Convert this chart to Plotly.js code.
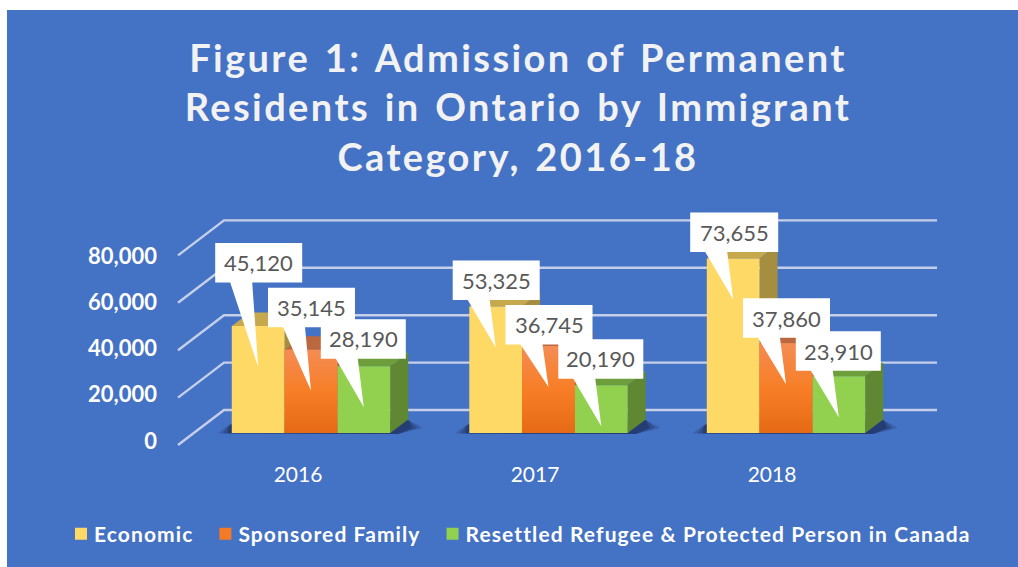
<!DOCTYPE html>
<html>
<head>
<meta charset="utf-8">
<script src="https://cdn.plot.ly/plotly-3.0.1.min.js"></script>
<style>
html,body{margin:0;padding:0;background:#fff;overflow:hidden}
#chart{width:1018px;height:567px}
.gtitle{letter-spacing:2.4px;word-spacing:3px}
.legendtext{letter-spacing:1.1px}
</style>
</head>
<body>
<div id="chart"></div>
<script>
// ---- data ----
const years = ['2016', '2017', '2018'];
const economic = [45120, 53325, 73655];
const sponsored = [35145, 36745, 37860];
const refugee = [28190, 20190, 23910];
const yTicks = [0, 20000, 40000, 60000, 80000];
const seriesNames = ['Economic', 'Sponsored Family', 'Resettled Refugee & Protected Person in Canada'];
const titleText = 'Figure 1: Admission of Permanent<br>Residents in Ontario by Immigrant<br>Category, 2016-18';

// ---- styling / geometry (pixels) ----
const frontColors = ['#FFD966', '#F47B24', '#92D050'];
const topColors = ['#C6A94C', '#BB673F', '#6E9E3C'];
const sideColors = ['#A68E41', '#A85A34', '#608833'];
const M = {l: 20, r: 10, t: 200, b: 112};
const W = 1018, H = 567;
const groupStep = 237.5, barPx = 52.8, depthX = 18, depthY = 13.5;
const pxPerTick = 47.4;
const ux = 1 / groupStep, uy = 20000 / pxPerTick;
const barCenter0 = 311, barBase = 433;
const tipDrop = 41;
// callout: vertical gap between tip and box top, per series per year
const boxRise = [[124, 87, 87], [103, 82, 86], [88, 87, 86]];
const boxW = [[87, 87, 88], [87, 87, 87], [85, 85, 85]];
const boxH = 39.5, boxLeft = 43, tailL = 15, tailW = 22;

const series = [economic, sponsored, refugee];
const bw = barPx * ux;
const X = px => (px - barCenter0) * ux;
const Y = py => (barBase - py) * uy;
const plotW = W - M.l - M.r, plotH = H - M.t - M.b;
const shapes = [];
const annotations = [];

// blue chart area inside the white page edge
shapes.push({type: 'rect', xref: 'paper', yref: 'paper', layer: 'below',
  x0: (7 - M.l) / plotW, x1: (W - M.l) / plotW, y0: (H - M.b - H) / plotH, y1: (H - M.b - 10) / plotH,
  line: {width: 0}, fillcolor: '#4472C4'});

// gridlines with floor diagonals
yTicks.forEach(t => {
  const dy = Y(410) + t, fy = Y(445) + t;
  shapes.push({type: 'path', xref: 'x2', yref: 'y2', layer: 'below',
    path: `M${X(178)},${fy}L${X(224)},${dy}L${X(937)},${dy}`,
    line: {color: '#C5CFE9', width: 2.4}, fillcolor: 'rgba(0,0,0,0)'});
});

// floor shadows
years.forEach((y, i) => {
  const l = i - 1.5 * bw, r = i + 1.5 * bw;
  [[14, 0.22], [9, 0.3], [4, 0.4]].forEach(([g, op]) => {
    const x0 = l - g * ux, x1 = r + (depthX + g) * ux;
    shapes.push({type: 'path', xref: 'x2', yref: 'y2', layer: 'below', opacity: op,
      path: `M${x0},${-0.5 * uy}Q${l - 4 * ux},${8 * uy} ${l},${9 * uy}L${r},${12.5 * uy}L${r + depthX * ux},${13 * uy}Q${x1},${6 * uy} ${x1},${5 * uy}L${r + 8 * ux},${-1 * uy}Z`,
      line: {width: 0}, fillcolor: '#16264F'});
  });
});

// 3-D top and side faces, computed from the values
series.forEach((vals, s) => {
  vals.forEach((v, i) => {
    const xl = i + (s - 1.5) * bw, xr = xl + bw;
    const dx = depthX * ux, dy = depthY * uy;
    shapes.push({type: 'path', xref: 'x2', yref: 'y2', layer: 'below',
      path: `M${xl},${v}L${xl + dx},${v + dy}L${xr + dx},${v + dy}L${xr},${v}Z`,
      line: {width: 0}, fillcolor: topColors[s]});
    shapes.push({type: 'path', xref: 'x2', yref: 'y2', layer: 'below',
      path: `M${xr},${v}L${xr + dx},${v + dy}L${xr + dx},${dy}L${xr},0Z`,
      line: {width: 0}, fillcolor: sideColors[s]});
  });
});

// callouts
series.forEach((vals, s) => {
  vals.forEach((v, i) => {
    const tx = i + (s - 1) * bw, ty = v - tipDrop * uy;
    const left = tx - boxLeft * ux, top = ty + boxRise[s][i] * uy;
    const right = left + boxW[s][i] * ux, bot = top - boxH * uy;
    const tl = left + tailL * ux, tr = tl + tailW * ux;
    shapes.push({type: 'path', xref: 'x2', yref: 'y2', layer: 'above',
      path: `M${left},${top}L${right},${top}L${right},${bot}L${tr},${bot}L${tx},${ty}L${tl},${bot}L${left},${bot}Z`,
      line: {width: 0}, fillcolor: '#FFFFFF'});
    annotations.push({xref: 'x2', yref: 'y2', x: (left + right) / 2, y: (top + bot) / 2,
      text: v.toLocaleString('en-US'), showarrow: false, xanchor: 'center', yanchor: 'middle',
      font: {family: 'Lato', size: 22, color: '#595959'}});
  });
});

// ---- traces ----
const traces = [];
// invisible trace holding the labelled axes
traces.push({type: 'scatter', mode: 'none', x: years, y: [0, 0, 0], xaxis: 'x', yaxis: 'y', showlegend: false, hoverinfo: 'skip'});
series.forEach((vals, s) => {
  traces.push({type: 'bar', name: seriesNames[s], x: [0, 1, 2], y: vals, xaxis: 'x2', yaxis: 'y2',
    marker: {color: frontColors[s], line: {width: 0}}, hoverinfo: 'skip'});
});
// vertical shading on the Sponsored Family fronts
sponsored.forEach((v, i) => {
  const xl = i - 0.5 * bw, xr = i + 0.5 * bw;
  traces.push({type: 'scatter', mode: 'lines', x: [xl, xr, xr, xl, xl], y: [0, 0, v, v, 0], xaxis: 'x2', yaxis: 'y2',
    fill: 'toself', line: {width: 0}, showlegend: false, hoverinfo: 'skip',
    fillgradient: {type: 'vertical', colorscale: [[0, '#E66A15'], [0.5, '#F77E26'], [1, '#F48C54']]}});
});

const labelU = 80000 / 185;
const layout = {
  width: W, height: H, margin: {l: M.l, r: M.r, t: M.t, b: M.b},
  paper_bgcolor: '#FFFFFF', plot_bgcolor: 'rgba(0,0,0,0)',
  barmode: 'group', bargap: 1 - 3 * bw, bargroupgap: 0,
  title: {text: titleText, x: 518 / W, xanchor: 'center', y: 1 - 72 / H, yanchor: 'top', yref: 'container',
    font: {family: 'Lato', size: 38, weight: 700, color: '#F2F2F2'}},
  xaxis: {type: 'category', categoryorder: 'array', categoryarray: years,
    range: [(M.l - 298) / 237, (W - M.r - 298) / 237],
    showgrid: false, zeroline: false, showline: false, ticks: '', ticklabelstandoff: 5,
    tickfont: {family: 'Lato', size: 21, color: '#FFFFFF'}},
  yaxis: {anchor: 'free', position: (167 - M.l) / plotW,
    range: [(441 - (H - M.b)) * labelU, (441 - M.t) * labelU], tickvals: yTicks, ticktext: yTicks.map(t => t.toLocaleString('en-US')),
    showgrid: false, zeroline: false, showline: false, ticks: '', ticklabelstandoff: 10,
    tickfont: {family: 'Lato', size: 22, weight: 700, color: '#FFFFFF'}},
  xaxis2: {overlaying: 'x', anchor: 'y2', visible: false, type: 'linear',
    range: [X(M.l), X(W - M.r)], fixedrange: true},
  yaxis2: {overlaying: 'y', anchor: 'x2', visible: false,
    range: [Y(H - M.b), Y(M.t)], fixedrange: true},
  legend: {orientation: 'h', x: (54 - M.l) / plotW, xanchor: 'left', y: (H - M.b - 534) / plotH, yanchor: 'middle', bgcolor: 'rgba(0,0,0,0)',
    traceorder: 'normal', font: {family: 'Lato', size: 21, weight: 700, color: '#FFFFFF'}},
  shapes: shapes, annotations: annotations, showlegend: true
};

Plotly.newPlot('chart', traces, layout, {displayModeBar: false, staticPlot: true}).then(gd => {
  // compact swatches placed right beside their labels
  gd.querySelectorAll('.legend .legendbar').forEach(p => p.setAttribute('d', 'M7.5,6.5h-15v-13h15z'));
  gd.querySelectorAll('.legend .legendsymbols').forEach(g => g.setAttribute('transform', 'translate(7,0)'));
});
</script>
</body>
</html>
